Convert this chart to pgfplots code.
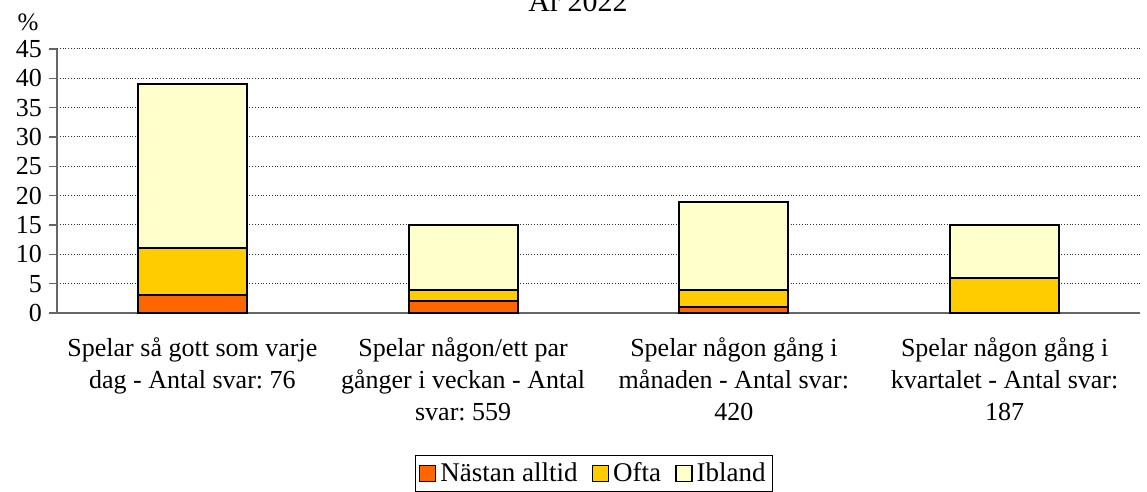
\documentclass[border=0pt]{standalone}
\usepackage{pgfplots}
\pgfplotsset{compat=1.18}
\usepackage{fontspec}
\setmainfont{Liberation Serif}
\hyphenpenalty=10000
\exhyphenpenalty=10000
\frenchspacing
\definecolor{cO}{HTML}{FF6600}
\definecolor{cY}{HTML}{FFCC00}
\definecolor{cP}{HTML}{FFFFCC}
\pgfplotsset{leg/.style={legend image code/.code={\draw[##1,draw=black,line width=0.8bp] (0bp,-4bp) rectangle (8bp,4bp);}}}
\begin{document}
\begin{tikzpicture}
\begin{axis}[
  scale only axis, width=541.5bp, height=132bp,
  ybar stacked, bar width=54.5bp,
  xmin=-0.5, xmax=3.5, ymin=0, ymax=45,
  ytick={0,5,...,45},
  xtick={0,1,2,3},
  xticklabels={{Spelar så gott som varje\\dag - Antal svar: 76}, {Spelar någon/ett par\\gånger i veckan - Antal\\svar: 559}, {Spelar någon gång i\\månaden - Antal svar:\\420}, {Spelar någon gång i\\kvartalet - Antal svar:\\187}},
  major x tick style={draw=none},
  extra x ticks={0.5,1.5,2.5,3.5}, extra x tick labels={},
  extra x tick style={grid=none, tick style={draw=gray!80!black, line width=0.8bp}, major tick length=4bp},
  axis x line*=bottom, axis y line*=left,
  axis line style={draw=gray!80!black, line width=0.8bp},
  y axis line style={-}, x axis line style={-},
  ytick style={draw=gray!80!black, line width=0.8bp},
  tick align=outside, major tick length=4bp,
  ymajorgrids, grid style={densely dotted, black!80, line width=0.5bp},
  /pgf/number format/assume math mode=true,
  tick label style={font=\fontsize{13bp}{16bp}\selectfont},
  xticklabel style={align=center, yshift=-5bp},
  title={År 2022},
  title style={at={(0.481,1)}, anchor=base, yshift=13bp, font=\fontsize{15bp}{18bp}\selectfont},
  legend style={at={(0.496,-0.538)}, anchor=north, legend columns=-1, draw=black, line width=0.6bp,
    font=\fontsize{13.5bp}{15bp}\selectfont, inner sep=1.5bp,
    /tikz/every even column/.append style={column sep=5bp}},
  clip=false,
]
\addplot[fill=cO, draw=black, line width=1bp, leg] coordinates {(0,3) (1,2) (2,1) (3,0)};
\addplot[fill=cY, draw=black, line width=1bp, leg] coordinates {(0,8) (1,2) (2,3) (3,6)};
\addplot[fill=cP, draw=black, line width=1bp, leg] coordinates {(0,28) (1,11) (2,15) (3,9)};
\legend{Nästan alltid, Ofta, Ibland}
\node[font=\fontsize{12.5bp}{15bp}\selectfont] at ([xshift=-14.5bp,yshift=13.5bp]rel axis cs:0,1) {\%};
\coordinate (SW) at (rel axis cs:0,0);
\coordinate (NE) at (rel axis cs:1,1);
\end{axis}
\pgfresetboundingbox
\path[use as bounding box] ([xshift=-28.5bp,yshift=-89.5bp]SW) rectangle ([xshift=3.5bp,yshift=24.5bp]NE);
\end{tikzpicture}
\end{document}
